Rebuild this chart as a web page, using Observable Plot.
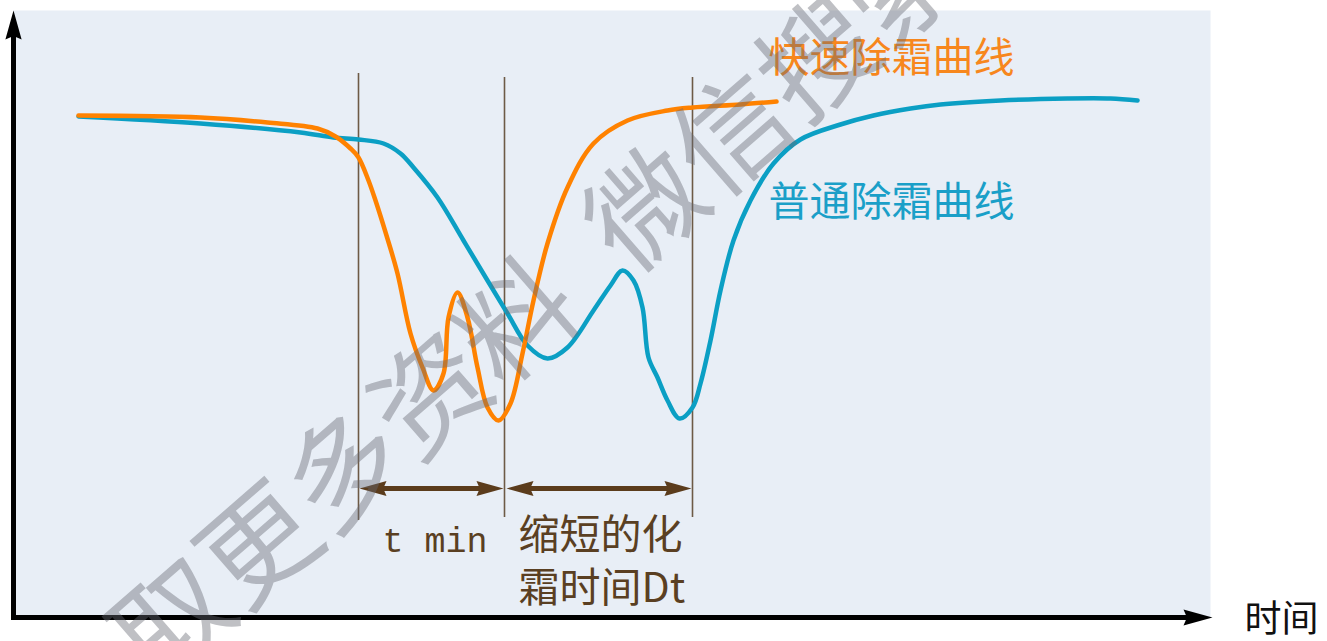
<!DOCTYPE html>
<html>
<head>
<meta charset="utf-8">
<script src="https://cdn.jsdelivr.net/npm/d3@7"></script>
<script src="https://cdn.jsdelivr.net/npm/@observablehq/plot@0.6"></script>
<style>
  html, body { margin: 0; padding: 0; background: #ffffff; overflow: hidden; }
  #chart svg { display: block; }
</style>
</head>
<body>
<div id="chart"></div>
<script>
// ---- Data (time in arbitrary units, level above the time axis) ----
// 快速除霜曲线 (fast defrost curve)
const fastTime  = [65, 187, 254, 304, 322, 337, 345, 355, 362, 373, 384, 397, 409, 420, 430, 435, 444, 454, 464, 474, 485, 497, 509, 520, 534, 554, 580, 614, 654, 679, 727, 763];
const fastLevel = [502, 500, 495, 489, 481, 469, 460, 437, 417, 382, 344, 284, 250, 227, 244, 300, 325, 300, 250, 210, 197, 214, 264, 317, 374, 430, 474, 497, 507, 510, 513, 516];

// 普通除霜曲线 (normal defrost curve)
const normalTime  = [65, 187, 287, 320, 345, 370, 387, 400, 424, 450, 474, 494, 514, 534, 554, 580, 597, 609, 620, 629, 635, 644, 654, 666, 679, 687, 697, 707, 720, 737, 760, 787, 827, 860, 897, 927, 987, 1054, 1097, 1124];
const normalLevel = [501, 494, 485, 480, 478, 474, 464, 450, 420, 377, 337, 304, 272, 259, 270, 307, 332, 347, 337, 310, 260, 240, 217, 199, 210, 234, 277, 327, 377, 417, 454, 478, 493, 502, 509, 513, 517, 519, 519, 517];

// Time markers (vertical reference lines)
const markerTime   = [345, 491, 679];
const markerTop    = [544, 540, 540];
const markerBottom = [97, 100, 100];

// Interval arrows
const spanFrom  = [346, 493];
const spanTo    = [490, 678];
const spanLevel = 129;

// Labels
const seriesNames  = ["快速除霜曲线", "普通除霜曲线"];
const seriesColors = ["#ff8200", "#0b9fc4"];
const labelColors  = ["#f7871d", "#1a9fc8"];
const labelTime    = [755, 755];
const labelLevel   = [559, 415];

const spanTexts = [
  {text: "t min",   t: 369, v: 77, mono: true},
  {text: "缩短的化", t: 505, v: 82, mono: false},
  {text: "霜时间Dt", t: 505, v: 29, mono: false}
];
const axisLabel = {text: "时间", t: 1231, v: -3};
const watermark = {text: "取更多资料\u2002微信搜索", t: 528, v: 312, angle: -41};

// Axis extents
const xMax = 1197, yMax = 607;

// ---- Build tables ----
const fast   = fastTime.map((t, i) => ({t, v: fastLevel[i]}));
const normal = normalTime.map((t, i) => ({t, v: normalLevel[i]}));
const markers = markerTime.map((t, i) => ({t, top: markerTop[i], bottom: markerBottom[i]}));
const spans = spanFrom.map((f, i) => ({from: f, to: spanTo[i], v: spanLevel}));
const labels = seriesNames.map((n, i) => ({name: n, t: labelTime[i], v: labelLevel[i], color: labelColors[i]}));

// Custom filled arrowhead symbols (tip at the anchor point)
function head(dx, dy) {
  return {
    draw(ctx, size) {
      const r = Math.sqrt(size / Math.PI);
      const L = 2 * r, W = 0.56 * r;
      const px = -dy, py = dx;
      ctx.moveTo(0, 0);
      ctx.lineTo(-dx * L + px * W, -dy * L + py * W);
      ctx.lineTo(-dx * L * 0.88, -dy * L * 0.88);
      ctx.lineTo(-dx * L - px * W, -dy * L - py * W);
      ctx.closePath();
    }
  };
}
const headRight = head(1, 0), headLeft = head(-1, 0), headUp = head(0, -1);

const brown = "#5b3c1c";
const cjk = "'Noto Sans CJK SC', 'Noto Sans', sans-serif";

const chart = Plot.plot({
  width: 1327,
  height: 641,
  marginLeft: 13,
  marginRight: 117,
  marginTop: 10,
  marginBottom: 24,
  x: {domain: [0, xMax], axis: null},
  y: {domain: [0, yMax], axis: null},
  style: {background: "#ffffff", overflow: "visible"},
  marks: [
    Plot.frame({fill: "#e8eef6", stroke: "none"}),

    // Vertical time markers
    Plot.ruleX(markers, {x: "t", y1: "bottom", y2: "top", stroke: "#6d5a46", strokeWidth: 1.6}),

    // Interval arrows
    Plot.ruleY(spans, {y: "v", x1: d => d.from + 20, x2: d => d.to - 20, stroke: brown, strokeWidth: 5}),
    Plot.dot(spans, {x: "from", y: "v", symbol: headLeft, r: 13.5, fill: brown, stroke: "none"}),
    Plot.dot(spans, {x: "to", y: "v", symbol: headRight, r: 13.5, fill: brown, stroke: "none"}),

    // Curves
    Plot.line(normal, {x: "t", y: "v", curve: "catmull-rom", stroke: seriesColors[1], strokeWidth: 4.5}),
    Plot.line(fast, {x: "t", y: "v", curve: "catmull-rom", stroke: seriesColors[0], strokeWidth: 4.5}),

    // Series labels
    Plot.text(labels, {x: "t", y: "v", text: "name", fill: "color", fontSize: 41, textAnchor: "start", lineAnchor: "middle", fontFamily: cjk}),

    // Interval texts
    Plot.text(spanTexts.filter(d => d.mono), {x: "t", y: "v", text: "text", fill: "#5a3f22", fontSize: 35, textAnchor: "start", lineAnchor: "middle", fontFamily: "'Liberation Mono', 'DejaVu Sans Mono', monospace"}),
    Plot.text(spanTexts.filter(d => !d.mono), {x: "t", y: "v", text: "text", fill: "#5a3f22", fontSize: 41, textAnchor: "start", lineAnchor: "middle", fontFamily: cjk}),

    // Axes with arrowheads
    Plot.ruleX([0], {y1: 0, y2: yMax - 20, stroke: "#000", strokeWidth: 5}),
    Plot.ruleY([0], {x1: -2, x2: xMax - 18, stroke: "#000", strokeWidth: 5}),
    Plot.dot([{t: 0, v: yMax}], {x: "t", y: "v", symbol: headUp, r: 14.5, fill: "#000", stroke: "none"}),
    Plot.dot([{t: xMax + 2, v: 0}], {x: "t", y: "v", symbol: headRight, r: 14.5, fill: "#000", stroke: "none"}),

    // Axis label
    Plot.text([axisLabel], {x: "t", y: "v", text: "text", fill: "#111", fontSize: 37, textAnchor: "start", lineAnchor: "middle", fontFamily: cjk}),

    // Watermark
    Plot.text([watermark], {x: "t", y: "v", text: "text", rotate: watermark.angle, fill: "#666a72", fillOpacity: 0.42, fontSize: 114, fontWeight: 400, textAnchor: "middle", lineAnchor: "middle", fontFamily: cjk})
  ]
});

document.getElementById("chart").appendChild(chart);
</script>
</body>
</html>
